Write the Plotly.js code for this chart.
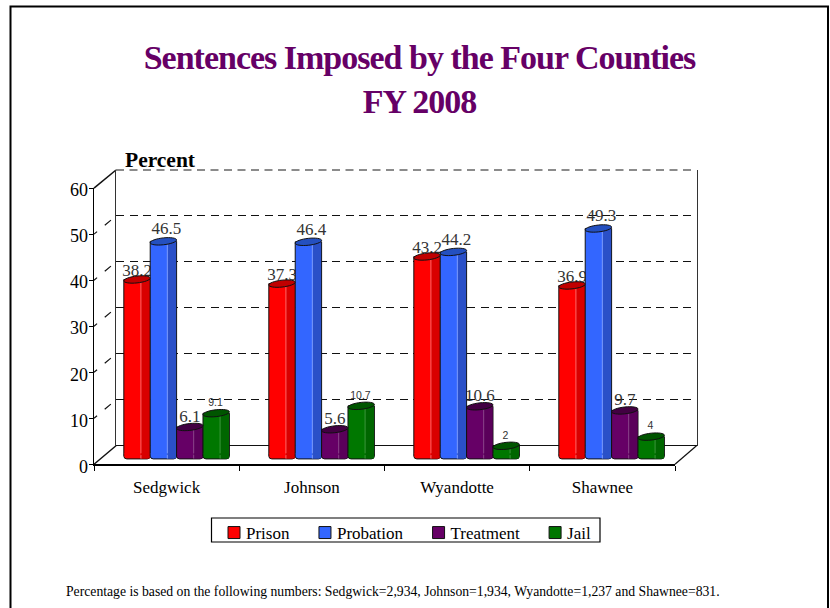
<!DOCTYPE html>
<html>
<head>
<meta charset="utf-8">
<script src="https://cdn.plot.ly/plotly-3.0.1.min.js"></script>
<style>
html,body{margin:0;padding:0;background:#fff;overflow:hidden}
text.gtitle{letter-spacing:-1px}
.legend .legendtext{transform:translateX(-9px)}
.ytick text{translate:0 2px}
</style>
</head>
<body>
<div id="chart" style="width:830px;height:608px"></div>
<script>
const counties = ["Sedgwick", "Johnson", "Wyandotte", "Shawnee"];
const prison = [38.2, 37.3, 43.2, 36.9];
const probation = [46.5, 46.4, 44.2, 49.3];
const treatment = [6.1, 5.6, 10.6, 9.7];
const jail = [9.1, 10.7, 2, 4];
const yTicks = [0, 10, 20, 30, 40, 50, 60];
const titleText = "Sentences Imposed by the Four Counties<br>FY 2008";
const footnote = "Percentage is based on the following numbers: Sedgwick=2,934, Johnson=1,934, Wyandotte=1,237 and Shawnee=831.";

const W = 830, H = 608, serif = "Liberation Serif, Times New Roman, serif", sans = "Liberation Sans, Arial, sans-serif";
const dom = (a, b) => [1 - b / H, 1 - a / H];
const hdom = (a, b) => [a / W, b / W];
const pxFront = v => 464.3 - v * 4.603, pxBack = v => 445.7 - v * 4.595;

const series = [
  {name: "Prison", v: prison, c: "#FF0000", d: "#D90000", h: "#FF7070", t: "#C00000", lx: 0, ly: -0.2},
  {name: "Probation", v: probation, c: "#3366FF", d: "#2A50C8", h: "#86A3FF", t: "#2450C0", lx: 0.02, ly: 0.6},
  {name: "Treatment", v: treatment, c: "#660066", d: "#5A005A", h: "#8E4A8E", t: "#420042", lx: 0, ly: 0.2},
  {name: "Jail", v: jail, c: "#007700", d: "#006600", h: "#409940", t: "#005500", lx: -0.005, ly: 1}
];
const bw = 0.182, foot = 0.85;
const traces = [];
const shapes = [];

traces.push({type: "scatter", mode: "markers", x: counties, y: counties.map(() => 0), xaxis: "x", yaxis: "y",
  marker: {opacity: 0}, showlegend: false, hoverinfo: "skip"});
traces.push({type: "scatter", mode: "markers", x: [0], y: [0], xaxis: "x2", yaxis: "y2",
  marker: {opacity: 0}, showlegend: false, hoverinfo: "skip"});

const idx = counties.map((_, i) => i);
function bar(extra) {
  return Object.assign({type: "bar", x: idx, xaxis: "x4", yaxis: "y4", showlegend: false, hoverinfo: "skip"}, extra);
}
series.forEach((s, k) => {
  const start = -2 * bw + k * bw;
  const off = f => start + f * bw;
  const line = {color: "#111", width: 1};
  traces.push(bar({y: s.v.map(() => -foot), width: bw, offset: start,
    marker: {color: s.c, line: line, cornerradius: 3}}));
  traces.push(bar({name: s.name, y: s.v, width: bw, offset: start, showlegend: true,
    marker: {color: s.c, line: line}}));
  traces.push(bar({y: s.v, width: bw * 0.33, offset: off(0.65), marker: {color: s.d, line: {width: 0}}}));
  traces.push(bar({y: s.v, width: bw * 0.035, offset: off(0.63), marker: {color: s.h, line: {width: 0}}}));
  traces.push(bar({y: s.v.map(() => 0.8), base: s.v.map(() => -0.4), width: bw * 0.62, offset: off(0.02), marker: {color: s.c, line: {width: 0}}}));
  traces.push(bar({y: s.v.map(() => 0.8), base: s.v.map(() => -0.4), width: bw * 0.33, offset: off(0.65), marker: {color: s.d, line: {width: 0}}}));
  traces.push(bar({y: s.v.map(() => -foot + 0.1), width: bw * 0.33, offset: off(0.65), marker: {color: s.d, line: {width: 0}}}));
  traces.push(bar({y: s.v.map(() => -foot + 0.1), width: bw * 0.035, offset: off(0.63), marker: {color: s.h, line: {width: 0}}}));
  s.v.forEach((v, i) => {
    const cx = i + start + bw / 2, a = bw / 2, b = 0.75, t = 0.3;
    let p = "";
    for (let j = 0; j < 32; j++) {
      const th = j / 32 * 2 * Math.PI;
      p += (j ? "L" : "M") + (cx + a * Math.cos(th)).toFixed(4) + "," + (v + b * Math.sin(th) + t * Math.cos(th)).toFixed(3);
    }
    shapes.push({type: "path", xref: "x4", yref: "y4", path: p + "Z", fillcolor: s.t, line: {color: "#111", width: 1}, layer: "above"});
  });
  const small = s.name === "Jail";
  traces.push({type: "scatter", mode: "text", xaxis: "x3", yaxis: "y3", showlegend: false, hoverinfo: "skip",
    x: s.v.map((_, i) => i + start + bw / 2 + s.lx),
    y: s.v.map(v => v + s.ly),
    text: s.v.map(String), textposition: "top center", cliponaxis: false,
    textfont: {family: small ? sans : serif, size: small ? 10.5 : 17, color: "#333"}});
});

const lineBlack = {color: "#111", width: 1.5};
const pl = (x0, y0, x1, y1, line) => ({type: "line", xref: "paper", yref: "paper",
  x0: x0 / W, x1: x1 / W, y0: 1 - y0 / H, y1: 1 - y1 / H, line: line, layer: "below"});
shapes.push({type: "rect", xref: "paper", yref: "paper", x0: 10.5 / W, x1: 828 / W, y0: -0.05, y1: 1 - 6.5 / H,
  line: {color: "#000", width: 2}, layer: "below"});
yTicks.forEach(v => {
  const solid = v === 0 || v === 60;
  shapes.push(pl(94, pxFront(v), 116, pxBack(v), solid ? lineBlack : {color: "#111", width: 1.2, dash: "4px,10px,8px,20px"}));
});
shapes.push(pl(675, 464.3, 696.5, 445.7, {color: "#111", width: 1.2}));
shapes.push(pl(116, 170, 696.5, 170, {color: "#666", width: 1.6, dash: "8px,5.5px"}));
shapes.push({type: "rect", xref: "paper", yref: "paper", x0: 211.5 / W, x1: 600 / W, y0: 1 - 542 / H, y1: 1 - 518 / H,
  fillcolor: "#fff", line: {color: "#000", width: 1.2}, layer: "below"});

const catAxis = {type: "category", categoryorder: "array", categoryarray: counties, range: [-0.5, 3.5], domain: hdom(94, 675), anchor: "y",
  tickson: "boundaries", ticks: "outside", ticklen: 5, tickwidth: 1, tickcolor: "#000", showline: true, linecolor: "#000", linewidth: 1.5,
  showgrid: false, zeroline: false, ticklabelstandoff: 7, tickfont: {family: serif, size: 17, color: "#000"}, fixedrange: true};
const valAxis = {range: [0, 60], domain: dom(188, 464.3), anchor: "x", tickvals: yTicks, ticktext: yTicks.map(String), ticks: "outside",
  ticklen: 4, tickwidth: 1, tickcolor: "#000", showline: true, linecolor: "#000", linewidth: 1.5, showgrid: false, zeroline: false,
  ticklabelstandoff: -3, tickfont: {family: serif, size: 18, color: "#000"}, fixedrange: true};
const hidden = {visible: false, fixedrange: true};
const barX = Object.assign({range: [-0.5, 3.5], domain: hdom(104.1, 684.1)}, hidden);
const barY = Object.assign({range: [-2, 60], domain: dom(455 - 60 * 4.595, 455 + 2 * 4.595)}, hidden);

const layout = {
  width: W, height: H, autosize: false, margin: {l: 0, r: 0, t: 0, b: 0}, paper_bgcolor: "#fff", plot_bgcolor: "rgba(0,0,0,0)",
  barmode: "overlay", hovermode: false,
  title: {text: titleText, x: 419.5 / W, xanchor: "center", y: 1 - 69 / H, yanchor: "top", font: {family: serif, size: 34, color: "#660066", weight: 700}},
  xaxis: catAxis,
  yaxis: valAxis,
  xaxis2: {range: [0, 1], domain: hdom(116, 696.5), anchor: "y2", showline: false, showticklabels: false, ticks: "", showgrid: false, zeroline: false, fixedrange: true},
  yaxis2: {range: [0, 60], domain: dom(170, 445.7), anchor: "x2", tickvals: yTicks.slice(1, -1), showticklabels: false, ticks: "", showline: true, mirror: true, linecolor: "#333", linewidth: 1.2,
    showgrid: true, griddash: "8px,5.5px", gridcolor: "#111", gridwidth: 1, zeroline: true, zerolinecolor: "#111", zerolinewidth: 1.5, fixedrange: true},
  xaxis3: Object.assign({anchor: "y3"}, barX),
  yaxis3: Object.assign({anchor: "x3"}, barY),
  xaxis4: Object.assign({anchor: "y4"}, barX),
  yaxis4: Object.assign({anchor: "x4"}, barY),
  legend: {orientation: "h", x: 213 / W, xanchor: "left", y: 1 - 515 / H, yanchor: "top", bgcolor: "rgba(0,0,0,0)", borderwidth: 0,
    font: {family: serif, size: 17, color: "#000"}, traceorder: "normal", itemwidth: 32, itemclick: false, itemdoubleclick: false},
  showlegend: true,
  shapes: shapes,
  annotations: [
    {text: "<b>Percent</b>", xref: "paper", yref: "paper", x: 123 / W, y: 1 - 160 / H, xanchor: "left", yanchor: "middle", showarrow: false, font: {family: serif, size: 21.5, color: "#000"}},
    {text: footnote, xref: "paper", yref: "paper", x: 64 / W, y: 1 - 591 / H, xanchor: "left", yanchor: "middle", showarrow: false, font: {family: serif, size: 13.7, color: "#000"}}
  ]
};
Plotly.newPlot("chart", traces, layout, {displayModeBar: false, staticPlot: true});
</script>
</body>
</html>
